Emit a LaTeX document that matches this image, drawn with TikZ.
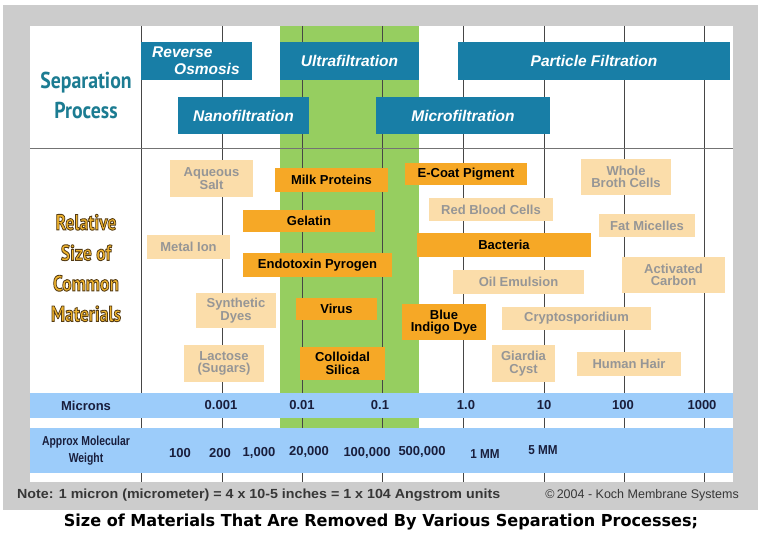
\documentclass[tikz,border=0pt]{standalone}
\usepackage{fontspec}
\usepackage{graphicx}
\setmainfont{Liberation Sans}
\newfontfamily\ptsans{PT Sans}
\newfontfamily\djv{DejaVu Sans}
\definecolor{bggray}{RGB}{204,204,204}
\definecolor{procteal}{RGB}{24,126,166}
\definecolor{headteal}{RGB}{28,124,146}
\definecolor{greenband}{RGB}{150,206,96}
\definecolor{matdark}{RGB}{246,168,38}
\definecolor{matlight}{RGB}{251,221,170}
\definecolor{mattxt}{RGB}{150,150,150}
\definecolor{blueband}{RGB}{156,204,250}
\definecolor{axistxt}{RGB}{25,30,60}
\definecolor{gridcol}{RGB}{70,70,70}
\definecolor{goldtxt}{RGB}{240,180,45}
\definecolor{notetxt}{RGB}{55,55,55}
\newcommand{\squeezeit}[2]{\scalebox{#1}[1]{#2}}
\newcommand{\outl}[1]{\special{pdf:code q 2 Tr 0.9 w 0.33 0.23 0.08 RG}#1\special{pdf:code Q}}
\newcommand{\reltext}{\squeezeit{0.8}{\outl{Relative}}\\\squeezeit{0.8}{\outl{Size of}}\\\squeezeit{0.8}{\outl{Common}}\\\squeezeit{0.8}{\outl{Materials}}}
\tikzset{
  proc/.style={fill=procteal, text=white, inner sep=0pt, align=center,
    font=\fontsize{15.5}{17}\selectfont\bfseries\itshape},
  darkmat/.style={fill=matdark, text=black, inner sep=0pt, align=center,
    font=\fontsize{13}{12.5}\selectfont\bfseries},
  lightmat/.style={fill=matlight, text=mattxt, inner sep=0pt, align=center,
    font=\fontsize{13}{12.5}\selectfont\bfseries},
  axislab/.style={text=axistxt, inner sep=0pt, font=\fontsize{13}{15}\selectfont\bfseries},
  gridline/.style={draw=gridcol, line width=0.8pt},
  band/.style={fill=blueband, draw=none},
  relfont/.style={align=center, inner sep=0pt, font=\fontsize{22}{30.5}\selectfont\ptsans\bfseries},
}
\begin{document}
\begin{tikzpicture}[x=1pt,y=-1pt]
\useasboundingbox (0,0) rectangle (768,535);
\fill[white] (0,0) rectangle (768,535);
% gray frame and white panel
\fill[bggray] (3,5) rectangle (758,510);
\fill[white] (30,26) rectangle (733,482);
% green ultrafiltration band
\fill[greenband] (280,26) rectangle (419,428);
% grid
\foreach \gx in {141,222,302,382,463,544,624,704}
  \draw[gridline] (\gx,26) -- (\gx,482);
\draw[draw=gray!90!black, line width=0.8pt] (30,148) -- (733,148);
% bands
\fill[band] (30,393) rectangle (733,418);
\fill[band] (30,428) rectangle (733,473);

% left headings
\node[text=headteal, align=center, inner sep=0pt,
  font=\fontsize{23}{30}\selectfont\ptsans\bfseries] (sephead) at (86,95)
  {\squeezeit{0.86}{Separation}\\\squeezeit{0.86}{Process}};
\node[relfont, text=goldtxt] (relhead) at (86,268) {\reltext};

% separation processes
\node[proc, minimum width=111pt, minimum height=38pt] (ro) at (196.5,61) {};
\node[text=white, inner sep=0pt, align=left, anchor=west,
  font=\fontsize{15.5}{17}\selectfont\bfseries\itshape] (rotext) at (152,61)
  {Reverse\\\hspace*{22pt}Osmosis};
\node[proc, minimum width=139pt, minimum height=38pt] (uf) at (349.5,61) {Ultrafiltration};
\node[proc, minimum width=272pt, minimum height=38pt] (pf) at (594,61) {Particle Filtration};
\node[proc, minimum width=131pt, minimum height=37pt] (nf) at (243.5,115.5) {Nanofiltration};
\node[proc, minimum width=174pt, minimum height=37pt] (mf) at (463,115.5) {Microfiltration};

% materials
\node[lightmat, minimum width=83pt, minimum height=37pt] (aqsalt) at (211.5,178.5) {Aqueous\\Salt};
\node[darkmat, minimum width=113pt, minimum height=24pt] (milk) at (331.5,180) {Milk Proteins};
\node[darkmat, minimum width=132pt, minimum height=22pt] (gelatin) at (309,221) {Gelatin};
\node[lightmat, minimum width=83pt, minimum height=24pt] (metal) at (188.5,247) {Metal Ion};
\node[darkmat, minimum width=149pt, minimum height=24pt] (endo) at (317.5,265) {Endotoxin Pyrogen};
\node[lightmat, minimum width=80pt, minimum height=35pt] (synth) at (236,310.5) {Synthetic\\Dyes};
\node[darkmat, minimum width=81pt, minimum height=22pt] (virus) at (336.5,309) {Virus};
\node[lightmat, minimum width=80pt, minimum height=37pt] (lactose) at (224,363.5) {Lactose\\(Sugars)};
\node[darkmat, minimum width=85pt, minimum height=33pt] (colloid) at (342.5,363.5) {Colloidal\\Silica};
\node[darkmat, minimum width=122pt, minimum height=22pt] (ecoat) at (466,174) {E-Coat Pigment};
\node[lightmat, minimum width=90pt, minimum height=36pt] (whole) at (626,177) {Whole\\Broth Cells};
\node[lightmat, minimum width=124pt, minimum height=23pt] (rbc) at (491,209.5) {Red Blood Cells};
\node[lightmat, minimum width=96pt, minimum height=23pt] (fat) at (647,225.5) {Fat Micelles};
\node[darkmat, minimum width=174pt, minimum height=24pt] (bacteria) at (504,245) {Bacteria};
\node[lightmat, minimum width=103pt, minimum height=36pt] (actcarb) at (673.5,275) {Activated\\Carbon};
\node[lightmat, minimum width=131pt, minimum height=24pt] (oil) at (518.5,282) {Oil Emulsion};
\node[darkmat, minimum width=84pt, minimum height=36pt] (indigo) at (444,322) {Blue\\Indigo Dye};
\node[lightmat, minimum width=149pt, minimum height=23pt] (crypto) at (576.5,318.5) {Cryptosporidium};
\node[lightmat, minimum width=63pt, minimum height=37pt] (giardia) at (523.5,363.5) {Giardia\\Cyst};
\node[lightmat, minimum width=104pt, minimum height=24pt] (hair) at (629,364) {Human Hair};

% microns row
\node[axislab] (micronslab) at (86,405.5) {Microns};
\node[axislab] (m1) at (221,405.5) {0.001};
\node[axislab] (m2) at (302,405.5) {0.01};
\node[axislab] (m3) at (380,405.5) {0.1};
\node[axislab] (m4) at (466,405.5) {1.0};
\node[axislab] (m5) at (544,405.5) {10};
\node[axislab] (m6) at (623,405.5) {100};
\node[axislab] (m7) at (702,405.5) {1000};

% molecular weight row
\node[axislab, align=center, font=\fontsize{13}{17}\selectfont\bfseries] (mwlab) at (86,450.5)
  {\squeezeit{0.8}{Approx Molecular}\\\squeezeit{0.8}{Weight}};
\node[axislab] (w1) at (180,453) {100};
\node[axislab] (w2) at (220,453) {200};
\node[axislab] (w3) at (259,453) {1,000};
\node[axislab] (w4) at (309,452) {20,000};
\node[axislab] (w5) at (367,453) {100,000};
\node[axislab] (w6) at (422,452) {500,000};
\node[axislab] (w7) at (485,454) {\squeezeit{0.9}{1 MM}};
\node[axislab] (w8) at (543,450) {\squeezeit{0.9}{5 MM}};

% notes
\node[text=notetxt, inner sep=0pt, anchor=west, font=\fontsize{13.2}{15}\selectfont\bfseries] (note) at (17,495)
  {\squeezeit{1.08}{Note: 1 micron (micrometer) = 4 x 10-5 inches = 1 x 104 Angstrom units}};
\node[text=notetxt, inner sep=0pt, anchor=east, font=\fontsize{12.5}{15}\selectfont] (copy) at (739,495)
  {\textcopyright\,2004 - Koch Membrane Systems};

% caption
\node[text=black, inner sep=0pt, font=\fontsize{16.5}{18}\selectfont\djv\bfseries] (caption) at (381,522)
  {\squeezeit{0.975}{Size of Materials That Are Removed By Various Separation Processes;}};
\end{tikzpicture}
\end{document}
